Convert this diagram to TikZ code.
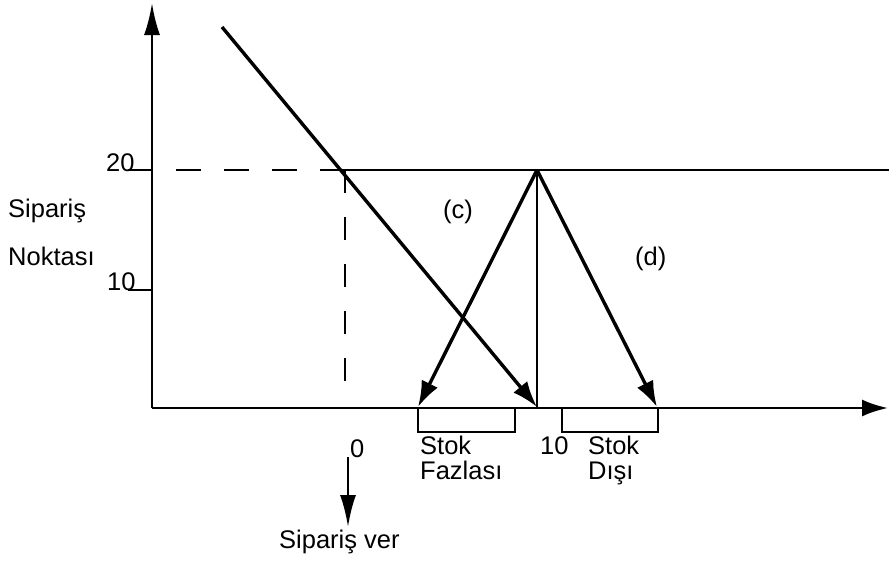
\documentclass[tikz,border=0pt]{standalone}
\usepackage{fontspec}
\setmainfont{Liberation Sans}
\usetikzlibrary{arrows.meta}
\begin{document}
\begin{tikzpicture}[x=1pt,y=-1pt,
  lbl/.style={anchor=base west,inner sep=0pt,font=\fontsize{25.5}{30}\selectfont},
  axis/.style={line width=2.6pt,-{Latex[length=26pt,width=17pt]}},
  longarr/.style={line width=2.6pt,-{Latex[length=32pt,width=16pt]}},
  diag/.style={line width=3.4pt,-{Latex[length=26pt,width=18pt]}},
  plain/.style={line width=2.4pt},
  hdash/.style={line width=2.4pt,dash pattern=on 25pt off 23pt},
  vdash/.style={line width=2.4pt,dash pattern=on 23pt off 24pt}]
\useasboundingbox (0,0) rectangle (889,565);
% coordinates
\coordinate (O) at (152,408);
\coordinate (Ytop) at (152,3);
\coordinate (Xend) at (888,408);
\coordinate (T20a) at (128,170);
\coordinate (T20b) at (152,170);
\coordinate (T10a) at (128,290);
\coordinate (T10b) at (152,290);
\coordinate (Dstart) at (174,170);
\coordinate (P) at (345,170);
\coordinate (Pbot) at (345,385);
\coordinate (Hend) at (889,170);
\coordinate (D0) at (222,27);
\coordinate (D1) at (537,407);
\coordinate (A) at (537,170);
\coordinate (Abot) at (537,408);
\coordinate (L) at (418,407);
\coordinate (R) at (657,407);
\coordinate (B1a) at (418,408);
\coordinate (B1b) at (418,432);
\coordinate (B1c) at (515,432);
\coordinate (B1d) at (515,408);
\coordinate (B2a) at (562,408);
\coordinate (B2b) at (562,432);
\coordinate (B2c) at (658,432);
\coordinate (B2d) at (658,408);
\coordinate (V0) at (348,457);
\coordinate (V1) at (348,527);
% axes
\draw[longarr] (O) -- (Ytop);
\draw[axis] (O) -- (Xend);
\draw[plain] (T20a) -- (T20b);
\draw[plain] (T10a) -- (T10b);
% dashed
\draw[hdash] (P) -- (Dstart);
\draw[vdash] (P) -- (Pbot);
\draw[plain] (P) -- (Hend);
% lines
\draw[diag] (D0) -- (D1);
\draw[plain] (A) -- (Abot);
\draw[diag] (A) -- (L);
\draw[diag] (A) -- (R);
% brackets
\draw[plain] (B1a) -- (B1b) -- (B1c) -- (B1d);
\draw[plain] (B2a) -- (B2b) -- (B2c) -- (B2d);
\draw[longarr] (V0) -- (V1);
% labels
\node[lbl] (n20) at (106,171) {20};
\node[lbl] (n10) at (107,290) {10};
\node[lbl] (sip) at (8,217) {Sipariş};
\node[lbl] (nok) at (8,265) {Noktası};
\node[lbl] (c) at (443,218) {(c)};
\node[lbl] (d) at (635,265) {(d)};
\node[lbl] (z) at (350,457) {0};
\node[lbl] (s1) at (420,454) {Stok};
\node[lbl] (f1) at (420,479) {Fazlası};
\node[lbl] (t10) at (540,454) {10};
\node[lbl] (s2) at (588,454) {Stok};
\node[lbl] (f2) at (588,479) {Dışı};
\node[lbl] (sv) at (279,548) {Sipariş ver};
\end{tikzpicture}
\end{document}
